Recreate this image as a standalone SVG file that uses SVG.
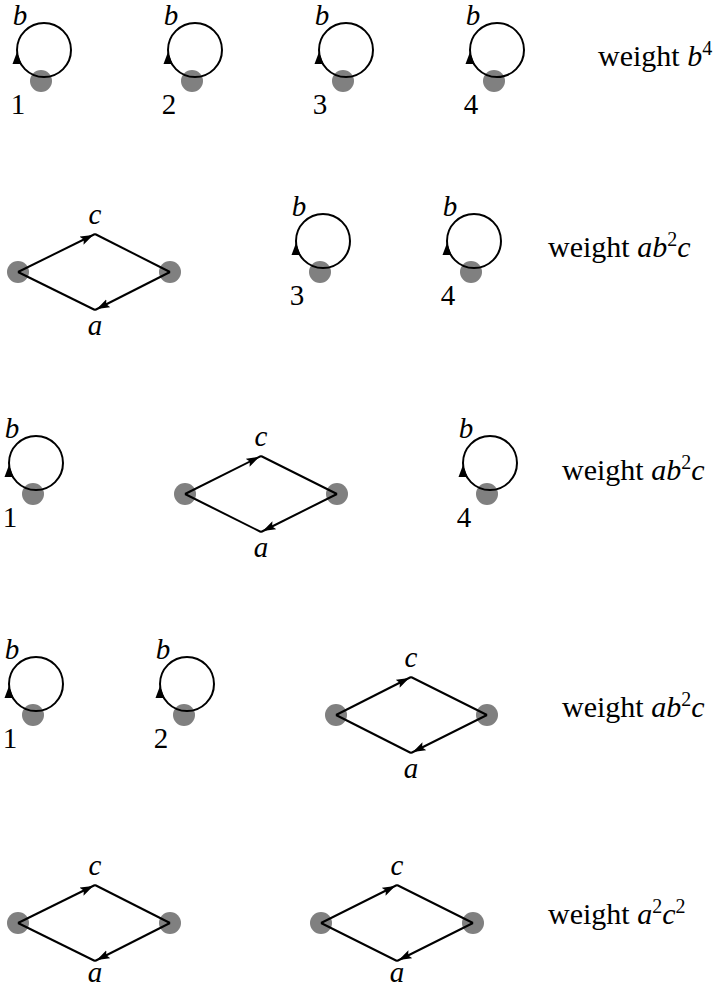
<svg xmlns="http://www.w3.org/2000/svg" width="719" height="991" viewBox="0 0 719 991">
<style>
text{font-family:'Liberation Serif','Times New Roman','DejaVu Serif',serif;fill:#000}
.nd{fill:#808080;stroke:none}
.lp{fill:none;stroke:#000;stroke-width:2}
.ed{fill:none;stroke:#000;stroke-width:2}
.ah{fill:#000;stroke:none}
.t{font-size:29px}
.mi{font-style:italic;font-size:29px}
.w{font-size:30px}
.m{font-style:italic}
.sup{font-size:20px;font-style:normal}
</style>
<defs>
<marker id="arr" markerWidth="16" markerHeight="10" refX="15" refY="4.5" orient="auto" markerUnits="userSpaceOnUse">
<path d="M0,0 L13,4.5 L0,9 L2.5,4.5 Z" fill="#000"/>
</marker>
</defs>

<!-- nodes -->
<g id="r1n1"><circle class="nd" cx="41" cy="81" r="11"/><text class="t" x="18" y="114" text-anchor="middle">1</text></g>
<g id="r1n2"><circle class="nd" cx="192" cy="81" r="11"/><text class="t" x="169" y="114" text-anchor="middle">2</text></g>
<g id="r1n3"><circle class="nd" cx="343" cy="81" r="11"/><text class="t" x="320" y="114" text-anchor="middle">3</text></g>
<g id="r1n4"><circle class="nd" cx="494" cy="81" r="11"/><text class="t" x="471" y="114" text-anchor="middle">4</text></g>

<g id="r2d1L"><circle class="nd" cx="18" cy="272" r="11"/></g>
<g id="r2d1R"><circle class="nd" cx="170" cy="272" r="11"/></g>
<g id="r2n3"><circle class="nd" cx="320" cy="272" r="11"/><text class="t" x="297" y="305" text-anchor="middle">3</text></g>
<g id="r2n4"><circle class="nd" cx="471" cy="272" r="11"/><text class="t" x="448" y="305" text-anchor="middle">4</text></g>

<g id="r3n1"><circle class="nd" cx="33" cy="494" r="11"/><text class="t" x="10" y="527" text-anchor="middle">1</text></g>
<g id="r3d1L"><circle class="nd" cx="185" cy="494" r="11"/></g>
<g id="r3d1R"><circle class="nd" cx="337" cy="494" r="11"/></g>
<g id="r3n4"><circle class="nd" cx="487" cy="494" r="11"/><text class="t" x="464" y="527" text-anchor="middle">4</text></g>

<g id="r4n1"><circle class="nd" cx="33" cy="715" r="11"/><text class="t" x="10" y="748" text-anchor="middle">1</text></g>
<g id="r4n2"><circle class="nd" cx="184" cy="715" r="11"/><text class="t" x="161" y="748" text-anchor="middle">2</text></g>
<g id="r4d1L"><circle class="nd" cx="336" cy="715" r="11"/></g>
<g id="r4d1R"><circle class="nd" cx="487" cy="715" r="11"/></g>

<g id="r5d1L"><circle class="nd" cx="18" cy="923" r="11"/></g>
<g id="r5d1R"><circle class="nd" cx="170" cy="923" r="11"/></g>
<g id="r5d2L"><circle class="nd" cx="321" cy="923" r="11"/></g>
<g id="r5d2R"><circle class="nd" cx="473" cy="923" r="11"/></g>

<!-- connectors -->
<g id="connectors">
<g id="loops">
<circle class="lp" cx="44" cy="50" r="27"/><path class="ah" d="M17,52 L12.5,64 L21.5,64 Z"/><text class="mi" x="20" y="25" text-anchor="middle">b</text>
<circle class="lp" cx="195" cy="50" r="27"/><path class="ah" d="M168,52 L163.5,64 L172.5,64 Z"/><text class="mi" x="171" y="25" text-anchor="middle">b</text>
<circle class="lp" cx="346" cy="50" r="27"/><path class="ah" d="M319,52 L314.5,64 L323.5,64 Z"/><text class="mi" x="322" y="25" text-anchor="middle">b</text>
<circle class="lp" cx="497" cy="50" r="27"/><path class="ah" d="M470,52 L465.5,64 L474.5,64 Z"/><text class="mi" x="473" y="25" text-anchor="middle">b</text>

<circle class="lp" cx="323" cy="241" r="27"/><path class="ah" d="M296,243 L291.5,255 L300.5,255 Z"/><text class="mi" x="299" y="216" text-anchor="middle">b</text>
<circle class="lp" cx="474" cy="241" r="27"/><path class="ah" d="M447,243 L442.5,255 L451.5,255 Z"/><text class="mi" x="450" y="216" text-anchor="middle">b</text>

<circle class="lp" cx="36" cy="463" r="27"/><path class="ah" d="M9,465 L4.5,477 L13.5,477 Z"/><text class="mi" x="12" y="438" text-anchor="middle">b</text>
<circle class="lp" cx="490" cy="463" r="27"/><path class="ah" d="M463,465 L458.5,477 L467.5,477 Z"/><text class="mi" x="466" y="438" text-anchor="middle">b</text>

<circle class="lp" cx="36" cy="684" r="27"/><path class="ah" d="M9,686 L4.5,698 L13.5,698 Z"/><text class="mi" x="12" y="659" text-anchor="middle">b</text>
<circle class="lp" cx="187" cy="684" r="27"/><path class="ah" d="M160,686 L155.5,698 L164.5,698 Z"/><text class="mi" x="163" y="659" text-anchor="middle">b</text>
</g>
<g id="diamonds">
<path class="ed" d="M18,272 L95,234" marker-end="url(#arr)"/><path class="ed" d="M95,234 L170,272"/>
<path class="ed" d="M170,272 L95,310" marker-end="url(#arr)"/><path class="ed" d="M95,310 L18,272"/>
<text class="mi" x="95" y="224" text-anchor="middle">c</text><text class="mi" x="95" y="335" text-anchor="middle">a</text>

<path class="ed" d="M185,494 L261,456" marker-end="url(#arr)"/><path class="ed" d="M261,456 L337,494"/>
<path class="ed" d="M337,494 L261,532" marker-end="url(#arr)"/><path class="ed" d="M261,532 L185,494"/>
<text class="mi" x="261" y="446" text-anchor="middle">c</text><text class="mi" x="261" y="557" text-anchor="middle">a</text>

<path class="ed" d="M336,715 L411,677" marker-end="url(#arr)"/><path class="ed" d="M411,677 L487,715"/>
<path class="ed" d="M487,715 L411,753" marker-end="url(#arr)"/><path class="ed" d="M411,753 L336,715"/>
<text class="mi" x="411" y="667" text-anchor="middle">c</text><text class="mi" x="411" y="778" text-anchor="middle">a</text>

<path class="ed" d="M18,923 L95,885" marker-end="url(#arr)"/><path class="ed" d="M95,885 L170,923"/>
<path class="ed" d="M170,923 L95,961" marker-end="url(#arr)"/><path class="ed" d="M95,961 L18,923"/>
<text class="mi" x="95" y="875" text-anchor="middle">c</text><text class="mi" x="95" y="982" text-anchor="middle">a</text>

<path class="ed" d="M321,923 L397,885" marker-end="url(#arr)"/><path class="ed" d="M397,885 L473,923"/>
<path class="ed" d="M473,923 L397,961" marker-end="url(#arr)"/><path class="ed" d="M397,961 L321,923"/>
<text class="mi" x="397" y="875" text-anchor="middle">c</text><text class="mi" x="397" y="982" text-anchor="middle">a</text>
</g>
</g>

<g id="weights">
<text class="w" x="598" y="66">weight  <tspan class="m">b</tspan><tspan class="sup" dy="-11">4</tspan></text>
<text class="w" x="548" y="257">weight  <tspan class="m">ab</tspan><tspan class="sup" dy="-11">2</tspan><tspan class="m" dy="11">c</tspan></text>
<text class="w" x="562" y="480">weight  <tspan class="m">ab</tspan><tspan class="sup" dy="-11">2</tspan><tspan class="m" dy="11">c</tspan></text>
<text class="w" x="562" y="717">weight  <tspan class="m">ab</tspan><tspan class="sup" dy="-11">2</tspan><tspan class="m" dy="11">c</tspan></text>
<text class="w" x="548" y="924">weight  <tspan class="m">a</tspan><tspan class="sup" dy="-11">2</tspan><tspan class="m" dy="11">c</tspan><tspan class="sup" dy="-11">2</tspan></text>
</g>
</svg>
